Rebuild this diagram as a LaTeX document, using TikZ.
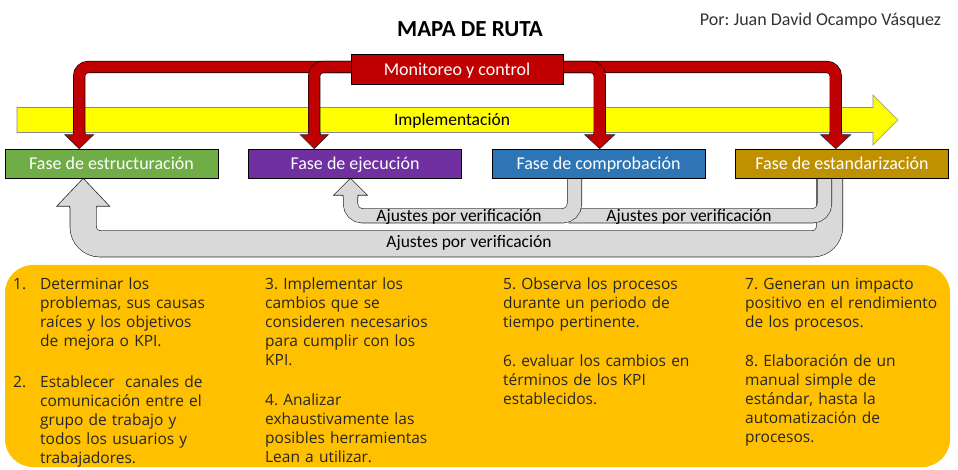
\documentclass[tikz,border=0pt]{standalone}
\usepackage{fontspec}
\setmainfont{Carlito}
\newfontfamily\listfont{Open Sans}
\usepackage{tikz}
\usetikzlibrary{calc,backgrounds}
\frenchspacing
\definecolor{verde}{HTML}{70AD47}
\definecolor{morado}{HTML}{7030A0}
\definecolor{azul}{HTML}{2E75B6}
\definecolor{dorado}{HTML}{BF9000}
\definecolor{rojo}{HTML}{C00000}
\definecolor{amarillo}{HTML}{FFFF00}
\definecolor{gris}{HTML}{D9D9D9}
\definecolor{naranja}{HTML}{FFC000}
\tikzset{my phase/.style={
  draw=black,
  line width=0.6pt,
  text=white,
  minimum height=29pt, minimum width=213pt,
  text height=11.5pt, text depth=0pt,
  font=\fontsize{18}{21}\selectfont
  }
}
\tikzset{my red band/.style={
  draw=black,
  line width=0.6pt,
  double=rojo, double distance=11pt,
  rounded corners=9pt
  }
}
\tikzset{my gray band/.style={
  draw=black!85,
  line width=0.6pt,
  double=gris, double distance=#1,
  rounded corners=12pt
  }
}
\tikzset{my label/.style={anchor=base, inner sep=0pt, font=\fontsize{17.5}{20}\selectfont}}
\tikzset{my list/.style={anchor=base west, inner sep=0pt, text width=#1, align=left,
  text=black!85, font=\listfont\fontsize{15.5}{19}\selectfont}}
% punta de flecha: base, punta, medio cuello, media anchura, color, entrada al cuerpo
\newcommand{\punta}[6]{%
  \filldraw[fill=#5, draw=black!85, line width=0.6pt]
    ($(#1)+(-#3,#6)$) -- ($(#1)+(-#3,0)$) -- ($(#1)+(-#4,0)$) -- (#2)
    -- ($(#1)+(#4,0)$) -- ($(#1)+(#3,0)$) -- ($(#1)+(#3,#6)$);}

\begin{document}
\begin{tikzpicture}[x=1pt,y=-1pt]
    \useasboundingbox (0,0) rectangle (958,470);

    \node[font=\bfseries\fontsize{23}{26}\selectfont, anchor=base] (titulo) at (470,37) {MAPA DE RUTA};
    \node[font=\fontsize{18}{21}\selectfont, anchor=base, text=black!80] (autor) at (820.5,26) {Por: Juan David Ocampo Vásquez};

    \foreach \c/\i/\nm [count=\n] in {verde/Fase de estructuración/estr,morado/Fase de ejecución/ejec,azul/Fase de comprobación/comp,dorado/Fase de estandarización/estd}
        \node[my phase, fill=\c] (\nm) at ({111.5+243.5*(\n-1)},163.5) {\i};

    \node[my phase, fill=rojo, minimum width=212pt, minimum height=30pt, text height=13pt] (mon) at (457,69) {Monitoreo y control};

    \begin{pgfonlayer}{background}
    \draw[fill=amarillo, draw=black!45, line width=0.6pt] (17,107.5) -- (873,107.5) -- (873,95) -- (898,120) -- (873,145) -- (873,132.5) -- (17,132.5) -- cycle;

    \coordinate (r1) at ($(estr.north west)+(74.5,-14)$);
    \coordinate (r2) at ($(ejec.north west)+(66,-14)$);
    \coordinate (r3) at ($(comp.north west)+(108,-14)$);
    \coordinate (r4) at ($(estd.north west)+(100.5,-14)$);

    \draw[my red band] ($(mon.west)+(10,-2)$) -| (r1);
    \punta{r1}{r1 |- estr.north}{6.1}{14.5}{rojo}{-1.5}
    \draw[my red band] ($(mon.west)+(10,-2)$) -| (r2);
    \punta{r2}{r2 |- ejec.north}{6.1}{14}{rojo}{-1.5}
    \draw[my red band] ($(mon.east)+(-10,-2)$) -| (r4);
    \punta{r4}{r4 |- estd.north}{6.1}{15}{rojo}{-1.5}
    \draw[my red band] ($(mon.east)+(-10,-2)$) -| (r3);
    \punta{r3}{r3 |- comp.north}{6.1}{15}{rojo}{-1.5}

    \coordinate (g1) at ($(ejec.south)+(-4.5,17)$);
    \coordinate (g3) at ($(estr.south west)+(78.5,28)$);

    \draw[my gray band=25.8pt, rounded corners=17pt] ($(estd.south)+(-12.5,-4)$) -- ++(0,69.5) -| (g3);
    \punta{g3}{g3 |- estr.south}{13.5}{26.5}{gris}{1.5}
    \draw[my gray band=13.8pt] ($(estd.south)+(-17.5,-4)$) |- ($(comp.south)+(-30,37.5)$);
    \draw[my gray band=13.8pt] ($(comp.south)+(-24,-4)$) -- ++(0,41.5) -| (g1);
    \punta{g1}{g1 |- ejec.south}{7.5}{17}{gris}{1.5}

    \fill[naranja, rounded corners=28pt] (5,265) rectangle (950,467);
    \end{pgfonlayer}

    \node[my label] (impl) at (452,126) {Implementación};
    \node[my label] (aj1) at (459,222) {Ajustes por verificación};
    \node[my label] (aj2) at (689,222) {Ajustes por verificación};
    \node[my label] (aj3) at (469,248) {Ajustes por verificación};

    \node[my list=20pt] (n1) at (13,290) {1.};
    \node[my list=200pt] (t1) at (40,290) {Determinar los\\problemas, sus causas\\raíces y los objetivos\\de mejora o KPI.};
    \node[my list=20pt] (n2) at (13,387) {2.};
    \node[my list=200pt] (t2) at (40,387) {Establecer\ \ canales de\\comunicación entre el\\grupo de trabajo y\\todos los usuarios y\\trabajadores.};
    \node[my list=220pt] (t3) at (265,290) {3. Implementar los\\cambios que se\\consideren necesarios\\para cumplir con los\\KPI.};
    \node[my list=220pt] (t4) at (265,405) {4. Analizar\\exhaustivamente las\\posibles herramientas\\Lean a utilizar.};
    \node[my list=220pt] (t5) at (503,290) {5. Observa los procesos\\durante un periodo de\\tiempo pertinente.};
    \node[my list=220pt] (t6) at (503,366) {6. evaluar los cambios en\\términos de los KPI\\establecidos.};
    \node[my list=200pt] (t7) at (745,290) {7. Generan un impacto\\positivo en el rendimiento\\de los procesos.};
    \node[my list=200pt] (t8) at (745,366) {8. Elaboración de un\\manual simple de\\estándar, hasta la\\automatización de\\procesos.};

\end{tikzpicture}
\end{document}
